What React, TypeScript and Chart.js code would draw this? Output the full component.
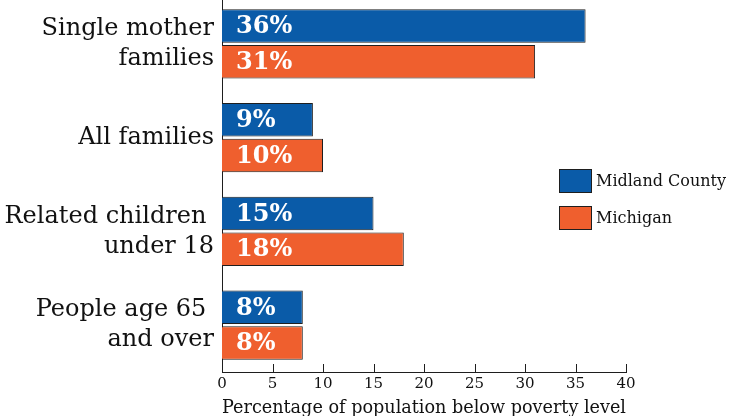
import React, { useEffect, useRef } from "react";
import { Chart, registerables } from "chart.js";

Chart.register(...registerables);

const categories: string[][] = [
  ["Single mother", "families"],
  ["All families"],
  ["Related children ", "under 18"],
  ["People age 65 ", "and over"],
];
const seriesNames = ["Midland County", "Michigan"];
const midlandValues = [36, 9, 15, 8];
const michiganValues = [31, 10, 18, 8];
const xMin = 0;
const xMax = 40;
const xStep = 5;
const axisTitle = "Percentage of population below poverty level";

const BLUE = "#0a5ba8";
const ORANGE = "#ef5f2e";
const BORDER = "#1e1e1e";
const SERIF = "'DejaVu Serif', 'Liberation Serif', serif";

const barLabelPlugin = {
  id: "barLabels",
  afterDatasetsDraw(chart: any) {
    const ctx = chart.ctx;
    ctx.save();
    ctx.fillStyle = "#ffffff";
    ctx.font = `bold 24px ${SERIF}`;
    ctx.textAlign = "left";
    ctx.textBaseline = "middle";
    chart.data.datasets.forEach((ds: any, di: number) => {
      const meta = chart.getDatasetMeta(di);
      meta.data.forEach((el: any, i: number) => {
        const p = el.getProps(["x", "y", "base"], true);
        ctx.fillText(`${ds.data[i]}%`, p.base + 14, p.y + 1);
      });
    });
    ctx.restore();
  },
};

const innerTicksPlugin = {
  id: "innerTicks",
  afterDraw(chart: any) {
    const ctx = chart.ctx;
    const xs = chart.scales.x;
    const bottom = chart.chartArea.bottom;
    ctx.save();
    ctx.strokeStyle = BORDER;
    ctx.lineWidth = 1;
    xs.ticks.forEach((_t: any, i: number) => {
      const px = Math.round(xs.getPixelForTick(i)) + 0.5;
      ctx.beginPath();
      ctx.moveTo(px, bottom);
      ctx.lineTo(px, bottom - 8);
      ctx.stroke();
    });
    ctx.restore();
  },
};

const legendPlugin = {
  id: "customLegend",
  afterDraw(chart: any) {
    const ctx = chart.ctx;
    ctx.save();
    const x = 559;
    const y0 = 172;
    const gap = 37;
    chart.data.datasets.forEach((ds: any, i: number) => {
      const y = y0 + i * gap;
      ctx.fillStyle = ds.backgroundColor;
      ctx.fillRect(x, y, 33, 24);
      ctx.strokeStyle = BORDER;
      ctx.lineWidth = 1;
      ctx.strokeRect(x + 0.5, y + 0.5, 32, 23);
      ctx.fillStyle = "#111";
      ctx.font = `16px ${SERIF}`;
      ctx.textAlign = "left";
      ctx.textBaseline = "middle";
      ctx.fillText(ds.label, x + 37, y + 13);
    });
    ctx.restore();
  },
};

export default function App() {
  const ref = useRef<HTMLCanvasElement | null>(null);

  useEffect(() => {
    if (!ref.current) return;
    const chart = new Chart(ref.current, {
      type: "bar",
      data: {
        labels: categories,
        datasets: [
          {
            label: seriesNames[0],
            data: midlandValues,
            backgroundColor: BLUE,
            borderColor: BORDER,
            borderWidth: 1,
            categoryPercentage: 0.76,
            barPercentage: 0.94,
          },
          {
            label: seriesNames[1],
            data: michiganValues,
            backgroundColor: ORANGE,
            borderColor: BORDER,
            borderWidth: 1,
            categoryPercentage: 0.76,
            barPercentage: 0.94,
          },
        ],
      },
      options: {
        indexAxis: "y",
        responsive: false,
        animation: false,
        layout: { padding: { top: 0, right: 104, bottom: 0, left: 0 } },
        plugins: {
          legend: { display: false },
          tooltip: { enabled: false },
          title: { display: false },
        },
        scales: {
          x: {
            min: xMin,
            max: xMax,
            ticks: {
              stepSize: xStep,
              color: "#111",
              font: { family: SERIF, size: 15 },
              padding: 3,
              maxRotation: 0,
            },
            grid: { display: false, drawTicks: false },
            border: { display: true, color: BORDER, width: 1 },
            title: {
              display: true,
              text: axisTitle,
              color: "#111",
              font: { family: SERIF, size: 18.5 },
              padding: { top: 0, bottom: 8 },
            },
            afterFit: (s: any) => {
              s.height = 55;
              s.paddingLeft = 0;
              s.paddingRight = 0;
            },
          },
          y: {
            ticks: {
              color: "#111",
              font: { family: SERIF, size: 24, lineHeight: 1.25 },
              padding: 8,
            },
            grid: { display: false, drawTicks: false },
            border: { display: true, color: BORDER, width: 1 },
            afterFit: (s: any) => {
              s.width = 222;
              s.paddingTop = 0;
              s.paddingBottom = 0;
            },
          },
        },
      },
      plugins: [barLabelPlugin, innerTicksPlugin, legendPlugin],
    } as any);
    return () => chart.destroy();
  }, []);

  return (
    <div style={{ position: "absolute", left: 0, top: -3, width: 730, height: 430 }}>
      <canvas ref={ref} width={730} height={430} style={{ width: 730, height: 430, display: "block" }} />
    </div>
  );
}
